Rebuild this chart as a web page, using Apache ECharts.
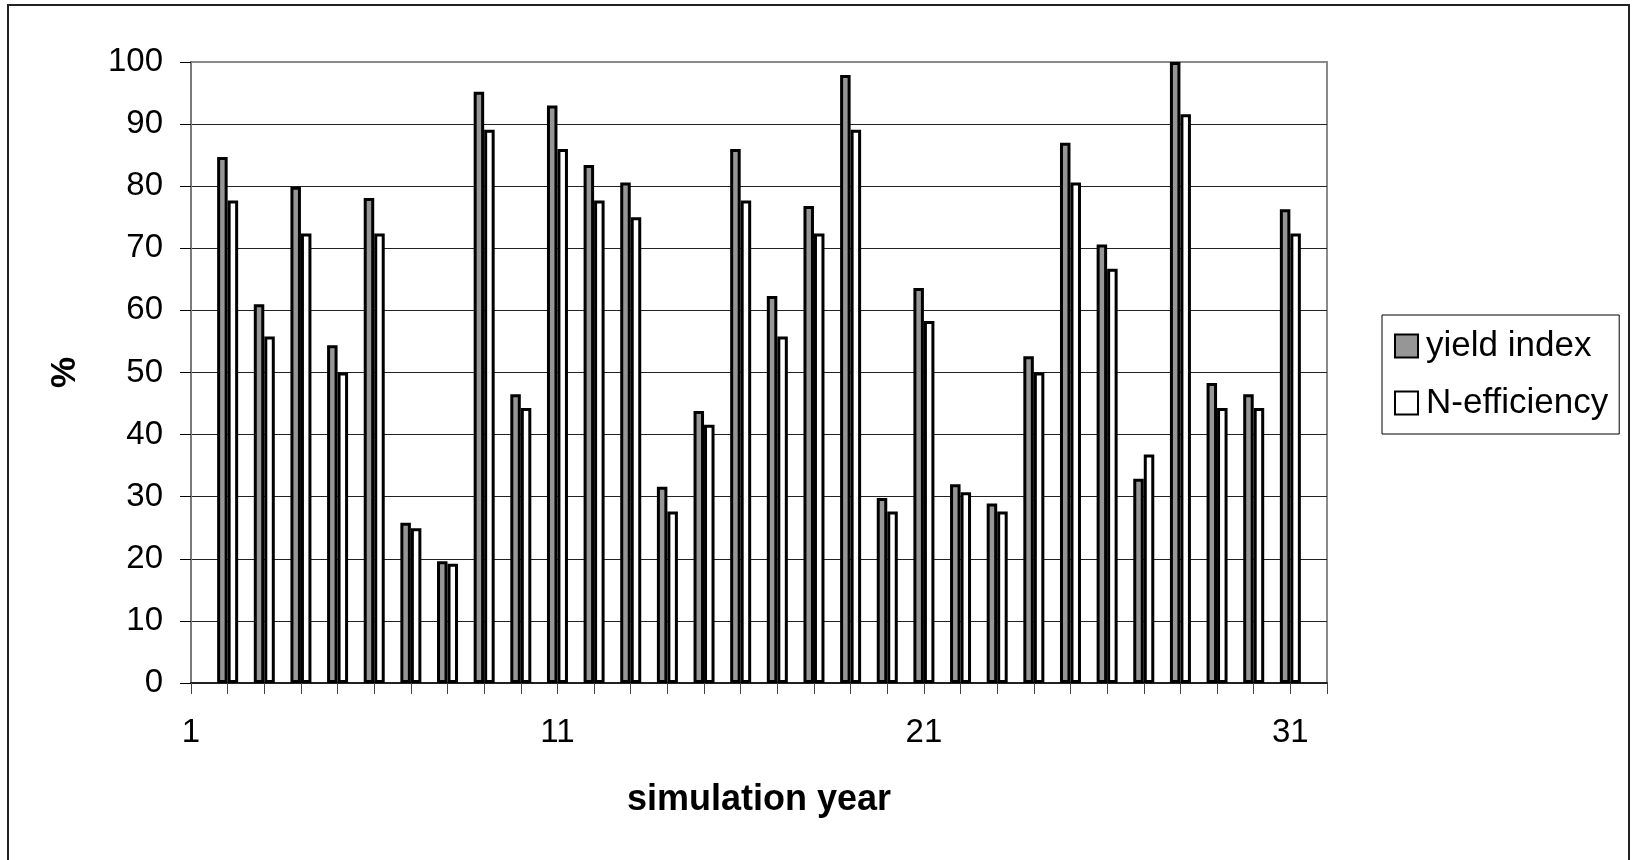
<!DOCTYPE html>
<html>
<head>
<meta charset="utf-8">
<title>yield index and N-efficiency by simulation year</title>
<script src="https://cdn.jsdelivr.net/npm/echarts@6/dist/echarts.min.js"></script>
<style>
  html, body { margin: 0; padding: 0; background: #fff; }
  #chart { width: 1634px; height: 860px; }
</style>
</head>
<body>
<div id="chart"></div>
<script>
// Simulation years on the category axis (ticks at every year, labels every 10th)
const years = ['1', '2', '3', '4', '5', '6', '7', '8', '9', '10',
  '11', '12', '13', '14', '15', '16', '17', '18', '19', '20',
  '21', '22', '23', '24', '25', '26', '27', '28', '29', '30',
  '31', '32'];

// Yield index (%) per simulation year
const yieldIndex = [null,
  84.7, 61.0, 79.9, 54.4, 78.1, 25.8, 19.6, 95.2, 46.5, 93.0,
  83.4, 80.6, 31.6, 43.8, 86.0, 62.3, 76.8, 97.9, 29.8, 63.6,
  32.0, 28.9, 52.6, 87.0, 70.6, 32.9, 100.0, 48.3, 46.5, 76.3,
  null];

// N-efficiency (%) per simulation year
const nEfficiency = [null,
  77.7, 55.8, 72.4, 50.0, 72.4, 24.9, 19.2, 89.1, 44.3, 86.0,
  77.7, 75.0, 27.6, 41.6, 77.7, 55.8, 72.4, 89.1, 27.6, 58.3,
  30.7, 27.6, 50.0, 80.6, 66.7, 36.8, 91.6, 44.3, 44.3, 72.4,
  null];

// Value axis ticks
const yTicks = { min: 0, max: 100, interval: 10 };

const FONT = '"Liberation Sans", Arial, sans-serif';

const chart = echarts.init(document.getElementById('chart'), null, { renderer: 'canvas' });

chart.setOption({
  animation: false,
  backgroundColor: '#ffffff',
  textStyle: { fontFamily: FONT, color: '#000' },
  graphic: [{
    type: 'rect',
    shape: { x: 8, y: 5, width: 1621, height: 860 },
    style: { fill: 'none', stroke: '#222', lineWidth: 2 },
    silent: true,
    z: -10
  }],
  grid: {
    left: 191, right: 307, top: 62, bottom: 177,
    show: true,
    backgroundColor: '#ffffff',
    borderColor: '#8a8a8a',
    borderWidth: 2
  },
  legend: {
    orient: 'vertical',
    left: 1382,
    top: 315,
    padding: [13, 11, 13, 12],
    backgroundColor: '#ffffff',
    borderColor: '#000',
    borderWidth: 1,
    borderRadius: 0,
    itemWidth: 23,
    itemHeight: 23,
    itemGap: 21,
    icon: 'rect',
    textStyle: { fontFamily: FONT, fontSize: 35, color: '#000', lineHeight: 36, padding: [0, 0, 0, 3] },
    itemStyle: { borderColor: '#000', borderWidth: 2 },
    data: ['yield index', 'N-efficiency']
  },
  xAxis: {
    type: 'category',
    data: years,
    boundaryGap: false,
    name: 'simulation year',
    nameLocation: 'middle',
    nameGap: 99,
    nameTextStyle: { fontFamily: FONT, fontSize: 36, fontWeight: 'bold', color: '#000' },
    axisLine: { show: true, lineStyle: { color: '#222', width: 2 } },
    axisTick: { show: true, interval: 0, length: 11, lineStyle: { color: '#444', width: 1 } },
    axisLabel: { interval: 9, margin: 33, fontFamily: FONT, fontSize: 33, color: '#000' },
    splitLine: { show: false }
  },
  yAxis: {
    type: 'value',
    min: yTicks.min,
    max: yTicks.max,
    interval: yTicks.interval,
    name: '%',
    nameLocation: 'middle',
    nameRotate: 90,
    nameGap: 108,
    nameTextStyle: { fontFamily: FONT, fontSize: 35, fontWeight: 'bold', color: '#000' },
    axisLine: { show: true, lineStyle: { color: '#7a7a7a', width: 2 } },
    axisTick: { show: true, length: 11, lineStyle: { color: '#000', width: 1 } },
    axisLabel: { margin: 28, fontFamily: FONT, fontSize: 33, color: '#000' },
    splitLine: { show: true, showMinLine: false, showMaxLine: false, lineStyle: { color: '#222', width: 1 } }
  },
  series: [
    {
      name: 'yield index',
      type: 'bar',
      data: yieldIndex,
      barWidth: 10.5,
      barGap: '0%',
      itemStyle: { color: '#969696', borderColor: '#000', borderWidth: 3 }
    },
    {
      name: 'N-efficiency',
      type: 'bar',
      data: nEfficiency,
      barWidth: 10.5,
      barGap: '0%',
      itemStyle: { color: '#ffffff', borderColor: '#000', borderWidth: 3 }
    }
  ]
});
</script>
</body>
</html>
